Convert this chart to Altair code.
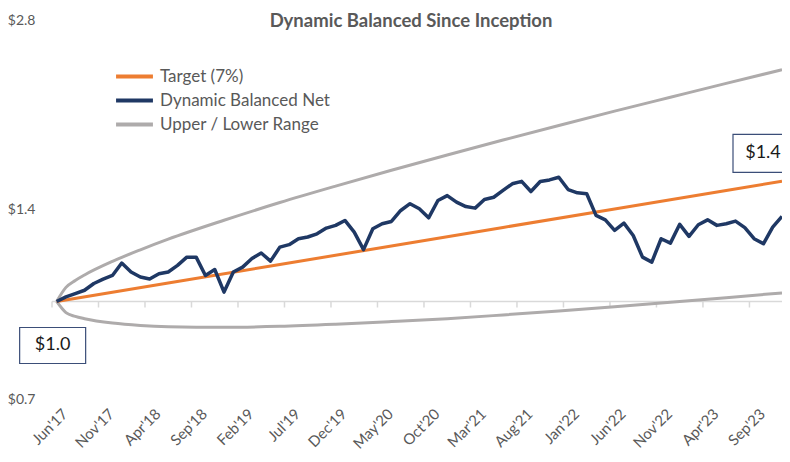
import json
import altair as alt
import pandas as pd

# ---------------- data ----------------
months = list(range(79))  # 0 = Jun'17 ... 78 = Dec'23
net = [1.000, 1.017, 1.029, 1.042, 1.068, 1.085, 1.100, 1.151, 1.114, 1.094,
       1.086, 1.107, 1.114, 1.141, 1.176, 1.176, 1.100, 1.124, 1.035, 1.114,
       1.134, 1.170, 1.194, 1.159, 1.220, 1.231, 1.258, 1.266, 1.281, 1.308,
       1.321, 1.345, 1.289, 1.209, 1.305, 1.329, 1.340, 1.395, 1.430, 1.404,
       1.358, 1.447, 1.473, 1.438, 1.415, 1.407, 1.452, 1.464, 1.501, 1.538,
       1.552, 1.495, 1.551, 1.560, 1.575, 1.506, 1.488, 1.483, 1.370, 1.348,
       1.297, 1.332, 1.273, 1.176, 1.155, 1.258, 1.238, 1.326, 1.269, 1.324,
       1.348, 1.321, 1.329, 1.342, 1.310, 1.258, 1.235, 1.313, 1.365]

target_months = [0, 12, 24, 36, 48, 60, 72, 78]
target = [1.000, 1.070, 1.145, 1.225, 1.311, 1.403, 1.501, 1.552]

range_months = [0, 1, 2, 3, 6, 9, 12, 18, 24, 30, 36, 42, 48, 54, 60, 66, 72, 78]
upper = [1.000, 1.053, 1.080, 1.102, 1.158, 1.208, 1.256, 1.346, 1.436, 1.525,
         1.616, 1.709, 1.805, 1.904, 2.006, 2.111, 2.221, 2.334]
lower = [1.000, 0.960, 0.947, 0.939, 0.924, 0.916, 0.912, 0.910, 0.913, 0.920,
         0.929, 0.939, 0.952, 0.966, 0.981, 0.997, 1.014, 1.032]

tick_months = [0, 5, 10, 15, 20, 25, 30, 35, 40, 45, 50, 55, 60, 65, 70, 75]
tick_labels = ["Jun'17", "Nov'17", "Apr'18", "Sep'18", "Feb'19", "Jul'19", "Dec'19",
               "May'20", "Oct'20", "Mar'21", "Aug'21", "Jan'22", "Jun'22", "Nov'22",
               "Apr'23", "Sep'23"]
y_ticks = [0.7, 1.4, 2.8]

series_names = ["Target (7%)", "Dynamic Balanced Net", "Upper / Lower Range"]
series_colors = ["#ED7D31", "#1F3864", "#AEABAB"]

ann_months = [0, 78]
ann_values = [net[0], net[-1]]
ann_labels = ["$1.0", "$1.4"]

FONT = "Lato"
GREY_TXT = "#595959"

# ---------------- tables ----------------
df_net = pd.DataFrame({"m": months, "v": net, "series": series_names[1], "part": "net"})
df_target = pd.DataFrame({"m": target_months, "v": target, "series": series_names[0], "part": "target"})
df_range = pd.concat([
    pd.DataFrame({"m": range_months, "v": upper, "series": series_names[2], "part": "upper"}),
    pd.DataFrame({"m": range_months, "v": lower, "series": series_names[2], "part": "lower"}),
])
df_ticks = pd.DataFrame({"m": [t - 0.5 for t in tick_months], "v": 1.0})
df_base = pd.DataFrame({"m": [-0.5], "m2": [months[-1]], "v": [1.0]})
df_ann = pd.DataFrame({"m": ann_months, "v": ann_values, "label": ann_labels})

xscale = alt.Scale(domain=[-0.5, months[-1]], nice=False, zero=False)
yscale = alt.Scale(type="log", base=2, domain=[0.7, 2.8], nice=False)
color = alt.Color("series:N",
                  scale=alt.Scale(domain=series_names, range=series_colors),
                  legend=alt.Legend(title=None, orient="none", legendX=71, legendY=45,
                                    symbolType="M-2,0H2", symbolSize=340,
                                    symbolStrokeWidth=4, labelFont=FONT,
                                    labelFontSize=17, labelColor=GREY_TXT,
                                    labelLimit=400,
                                    rowPadding=4, labelOffset=14, padding=0))

x_enc = alt.X("m:Q", scale=xscale,
              axis=alt.Axis(values=tick_months, title=None, domain=False, ticks=False,
                            grid=False, labelAngle=-45, labelAlign="right",
                            labelBaseline="middle", labelPadding=12, labelOffset=8,
                            labelFont=FONT, labelFontSize=15, labelColor=GREY_TXT,
                            labelExpr=json.dumps(tick_labels) + "[round(datum.value/5)]"))
y_enc = alt.Y("v:Q", scale=yscale,
              axis=alt.Axis(values=y_ticks, format="$.1f", title=None, domain=False,
                            ticks=False, grid=False, labelPadding=17, labelFont=FONT,
                            labelFontSize=14, labelColor=GREY_TXT))

base_rule = alt.Chart(df_base).mark_rule(color="#D9D9D9", strokeWidth=1.5).encode(
    x=x_enc, x2="m2:Q", y=y_enc)
tick_rules = alt.Chart(df_ticks).mark_rule(color="#D9D9D9", strokeWidth=1.5, y2Offset=6).encode(
    x="m:Q", y="v:Q", y2="v:Q")

range_lines = alt.Chart(df_range).mark_line(strokeWidth=3, interpolate="monotone").encode(
    x="m:Q", y="v:Q", color=color, detail="part:N")
target_line = alt.Chart(df_target).mark_line(strokeWidth=3).encode(
    x="m:Q", y="v:Q", color=color, detail="part:N")
net_line = alt.Chart(df_net).mark_line(strokeWidth=3.5, strokeJoin="round").encode(
    x="m:Q", y="v:Q", color=color, detail="part:N")

a0 = df_ann.iloc[[0]]
a1 = df_ann.iloc[[1]]
box0 = alt.Chart(a0).mark_rect(fill="white", stroke="#3B4E78", strokeWidth=1.2,
                               xOffset=-37, x2Offset=29, yOffset=26, y2Offset=62).encode(
    x="m:Q", x2="m:Q", y="v:Q", y2="v:Q")
txt0 = alt.Chart(a0).mark_text(font=FONT, fontSize=18, color="#1a1a1a", dx=-4, dy=44).encode(
    x="m:Q", y="v:Q", text="label:N")
box1 = alt.Chart(a1).mark_rect(fill="white", stroke="#3B4E78", strokeWidth=1.2,
                               xOffset=-49, x2Offset=19, yOffset=-82, y2Offset=-44).encode(
    x="m:Q", x2="m:Q", y="v:Q", y2="v:Q")
txt1 = alt.Chart(a1).mark_text(font=FONT, fontSize=18, color="#1a1a1a", dx=-19, dy=-63).encode(
    x="m:Q", y="v:Q", text="label:N")

chart = alt.layer(base_rule, tick_rules, range_lines, target_line, net_line,
                  box0, txt0, box1, txt1).properties(
    width=730, height=379,
    title=alt.TitleParams("Dynamic Balanced Since Inception", font=FONT, fontSize=18.5,
                          fontWeight="bold", color=GREY_TXT, anchor="middle",
                          baseline="middle", offset=-26, dx=-6),
    autosize=alt.AutoSizeParams(type="none"),
    padding={"left": 44, "top": 12, "right": 0, "bottom": 54},
).configure_view(stroke=None)

chart.save("out.html", embed_options={"renderer": "svg", "actions": False})
